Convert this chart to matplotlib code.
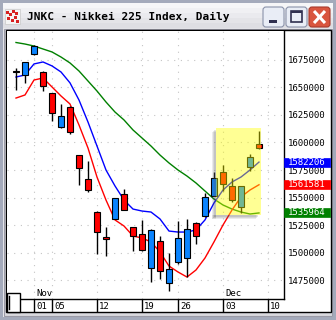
import matplotlib
matplotlib.use("Agg")
import matplotlib.pyplot as plt
from matplotlib.patches import Rectangle, FancyBboxPatch
from matplotlib.transforms import blended_transform_factory
import numpy as np

# trading days shown on the axis (last one has no candle yet)
days = ["10-30", "10-31", "11-01", "11-02", "11-05", "11-06", "11-07", "11-08", "11-09",
        "11-12", "11-13", "11-14", "11-15", "11-16", "11-19", "11-20", "11-21", "11-22",
        "11-26", "11-27", "11-28", "11-29", "11-30", "12-03", "12-04", "12-05", "12-06",
        "12-07", "12-10"]

opens = [1665000, 1661400, 1680400, 1664100, 1645000, 1614100, 1632300, 1588600, 1566800,
         1536800, 1514100, 1530500, 1553200, 1523200, 1516800, 1485900, 1510500, 1472300,
         1491400, 1495000, 1526800, 1533200, 1551400, 1573200, 1560500, 1541400, 1577700,
         1598600]
highs = [1667700, 1673500, 1688600, 1665000, 1645000, 1635000, 1633200, 1588600, 1583200,
         1537700, 1523200, 1549800, 1557700, 1523200, 1529600, 1521400, 1515000, 1499600,
         1528600, 1530500, 1527700, 1554100, 1573200, 1579500, 1567700, 1560500, 1589500,
         1610500]
lows = [1647700, 1654200, 1679500, 1646800, 1619500, 1613200, 1607700, 1561400, 1555000,
        1498600, 1496800, 1530200, 1538600, 1501400, 1501400, 1473200, 1475900, 1465000,
        1489600, 1477700, 1507700, 1532300, 1551400, 1555900, 1545900, 1535900, 1574100,
        1594100]
closes = [1664100, 1673200, 1687700, 1651400, 1626800, 1624100, 1609500, 1576800, 1556800,
          1518600, 1512300, 1549500, 1538600, 1515000, 1502300, 1520500, 1483200, 1485000,
          1513200, 1521400, 1515000, 1550500, 1567700, 1562300, 1547700, 1560500, 1586800,
          1595000]

ma_blue = [1659500, 1661400, 1671400, 1673200, 1669600, 1664100, 1654200, 1638600, 1618600,
           1596800, 1575000, 1560500, 1547700, 1539500, 1537700, 1536800, 1530500, 1519500,
           1518600, 1518600, 1520500, 1529600, 1545000, 1556800, 1564100, 1568600, 1575000,
           1582206]
ma_red = [1640400, 1643200, 1656800, 1658600, 1650500, 1642300, 1635000, 1615900, 1595000,
          1568600, 1547700, 1529600, 1524100, 1515000, 1513200, 1509600, 1500500, 1487700,
          1482300, 1477700, 1484100, 1495000, 1509600, 1525000, 1538600, 1550500, 1556800,
          1561581]
ma_green = [1690900, 1689500, 1687700, 1685000, 1682300, 1677700, 1672300, 1665000, 1655900,
            1646800, 1636800, 1627700, 1620500, 1611400, 1604100, 1596800, 1588600, 1581400,
            1575000, 1569500, 1563200, 1555900, 1548600, 1543200, 1539500, 1536800, 1535000,
            1535964]

tick_days = ["11-01", "11-05", "11-12", "11-19", "11-26", "12-03", "12-10"]
month_days = {"Nov": "11-01", "Dec": "12-03"}
price_ticks = np.arange(1475000, 1675001, 25000)

# highlighted zone (Dec 3 - Dec 7)
hl_x0, hl_x1 = 22.2, 27.2
hl_y0, hl_y1 = 1534100, 1613200

mono = "DejaVu Sans Mono"
W, H = 336, 320

fig = plt.figure(figsize=(W / 100, H / 100), dpi=100)
fig.patch.set_facecolor("#e6e6ea")

# ---- window chrome (pixel coords) ----
bg = fig.add_axes([0, 0, 1, 1])
bg.set_xlim(0, W)
bg.set_ylim(H, 0)
bg.axis("off")
bg.add_patch(Rectangle((0, 0), W, H, fc="#a4aabb", ec="none"))
bg.add_patch(Rectangle((3, 3), W - 6, H - 6, fc="#e8e8ec", ec="none"))
for i, c in enumerate(["#f6f6f8", "#f0f0f3", "#eaeaee", "#e4e4e8", "#dedee3"]):
    bg.add_patch(Rectangle((3, 3 + i * 5), W - 6, 5, fc=c, ec="none"))
bg.add_patch(Rectangle((4, 29), W - 8, H - 33, fc="#d9d9de", ec="#9a9aa6", lw=0.8))
bg.add_patch(Rectangle((6, 30), 325, 282, fc="white", ec="black", lw=1))

# icon
bg.add_patch(Rectangle((5, 9), 15, 15, fc="#f4f4f4", ec="#c8c8c8", lw=0.5))
for (ix, iy) in [(6, 11), (9, 13), (12, 10), (15, 12), (7, 17), (11, 19), (14, 16), (16, 20)]:
    bg.add_patch(Rectangle((ix, iy), 3, 3, fc="#d82020", ec="none"))
bg.text(27, 16.5, "JNKC - Nikkei 225 Index, Daily", family=mono, weight="bold",
        fontsize=8, va="center", ha="left", color="black")

# title buttons
for bx in [263, 286]:
    bg.add_patch(FancyBboxPatch((bx, 7), 21, 20, boxstyle="round,pad=0,rounding_size=3",
                                fc="#e9edf6", ec="#8a92aa", lw=0.8))
bg.add_patch(Rectangle((269, 20), 8, 3, fc="#303050", ec="none"))
bg.add_patch(Rectangle((291, 11), 11, 11, fc="none", ec="#303050", lw=1.2))
bg.add_patch(Rectangle((291, 11), 11, 2, fc="#303050", ec="none"))
bg.add_patch(FancyBboxPatch((309, 7), 21, 20, boxstyle="round,pad=0,rounding_size=3",
                            fc="#d9553f", ec="#a83a2c", lw=0.8))
bg.plot([314, 325], [11, 23], color="white", lw=2.2, solid_capstyle="butt")
bg.plot([314, 325], [23, 11], color="white", lw=2.2, solid_capstyle="butt")

# ---- price panel ----
x_lo, x_hi = -1.0, 29.78
y_lo, y_hi = 1457739, 1701351
ax = fig.add_axes([7 / W, (H - 299) / H, 277 / W, 268 / H])
ax.set_facecolor("white")
ax.set_xlim(x_lo, x_hi)
ax.set_ylim(y_lo, y_hi)
for s in ["left", "top"]:
    ax.spines[s].set_visible(False)
ax.spines["right"].set_linewidth(1)
ax.spines["bottom"].set_linewidth(1)

tick_pos = [days.index(d) for d in tick_days]
ax.set_xticks([])
ax.yaxis.tick_right()
ax.set_yticks(price_ticks)
ax.set_yticklabels([f"{int(v)}" for v in price_ticks], family=mono, fontsize=6.5)
ax.tick_params(axis="y", length=0, pad=3)

for v in price_ticks:
    ax.axhline(v, color="#c4c4c4", lw=0.8, ls=(0, (1, 5)), zorder=0)
for p in tick_pos:
    ax.axvline(p, color="#c4c4c4", lw=0.8, ls=(0, (1, 5)), zorder=0)

n = len(opens)
xs = np.arange(n)
o = np.array(opens)
c = np.array(closes)
up = c >= o
cols = np.where(up, "#0a84ff", "#ff0000")

ax.plot(xs, ma_green, color="#008000", lw=1, zorder=2)
ax.plot(xs, ma_blue, color="#0000ff", lw=1, zorder=2)
ax.plot(xs, ma_red, color="#ff0000", lw=1, zorder=2)

ax.vlines(xs, lows, highs, color="black", lw=1, zorder=3)
ax.bar(xs, np.maximum(np.abs(c - o), 600), bottom=np.minimum(o, c), width=0.6,
       color=cols, edgecolor="black", lw=0.8, zorder=3)

# highlight with drop shadow
px = (x_hi - x_lo) / 277
py = (y_hi - y_lo) / 268
for k, a in [(4, 0.12), (3, 0.14), (2, 0.16)]:
    ax.add_patch(Rectangle((hl_x0 - k * px, hl_y0 - k * py), k * px, hl_y1 - hl_y0,
                           fc="#606060", ec="none", alpha=a, zorder=4))
    ax.add_patch(Rectangle((hl_x0 - k * px, hl_y0 - k * py), hl_x1 - hl_x0 - 1 * px, k * py,
                           fc="#606060", ec="none", alpha=a, zorder=4))
ax.add_patch(Rectangle((hl_x0, hl_y0), hl_x1 - hl_x0, hl_y1 - hl_y0,
                       fc="#ffff00", ec="none", alpha=0.42, zorder=5))

# month labels
for m, d in month_days.items():
    ax.text(days.index(d) + 0.25, y_lo + 1.5 * py, m, family=mono, fontsize=6.5,
            ha="left", va="bottom", zorder=6)

# current value boxes
tr = blended_transform_factory(ax.transAxes, ax.transData)
bw = (330 - 284) / 277
for val, colr in [(ma_blue[-1], "#0000ff"), (ma_red[-1], "#ff0000"), (ma_green[-1], "#008000")]:
    ax.add_patch(Rectangle((1.0, val - 4.5 * py), bw, 9 * py, transform=tr, fc=colr,
                           ec=colr, lw=0.5, clip_on=False, zorder=7))
    ax.text(1.0 + bw / 2, val, f"{int(val)}", transform=tr, family=mono, fontsize=6.5,
            color="white", ha="center", va="center", clip_on=False, zorder=8)

# ---- date strip ----
axd = fig.add_axes([7 / W, (H - 312) / H, 277 / W, 13 / H])
axd.set_xlim(x_lo, x_hi)
axd.set_ylim(0, 1)
axd.axis("off")
for p, d in zip(tick_pos, tick_days):
    axd.plot([p, p], [0, 1], color="black", lw=1)
    axd.text(p + 0.25, 0.45, d[-2:], family=mono, fontsize=6.5, ha="left", va="center")

# small box bottom-left
top = fig.add_axes([0, 0, 1, 1], zorder=10)
top.set_xlim(0, W)
top.set_ylim(H, 0)
top.axis("off")
top.patch.set_alpha(0)
top.add_patch(Rectangle((7, 293), 13, 19, fc="white", ec="black", lw=1))
top.plot([9, 9], [296, 309], color="black", lw=1)

fig.savefig("out.png", dpi=100, facecolor=fig.get_facecolor())
